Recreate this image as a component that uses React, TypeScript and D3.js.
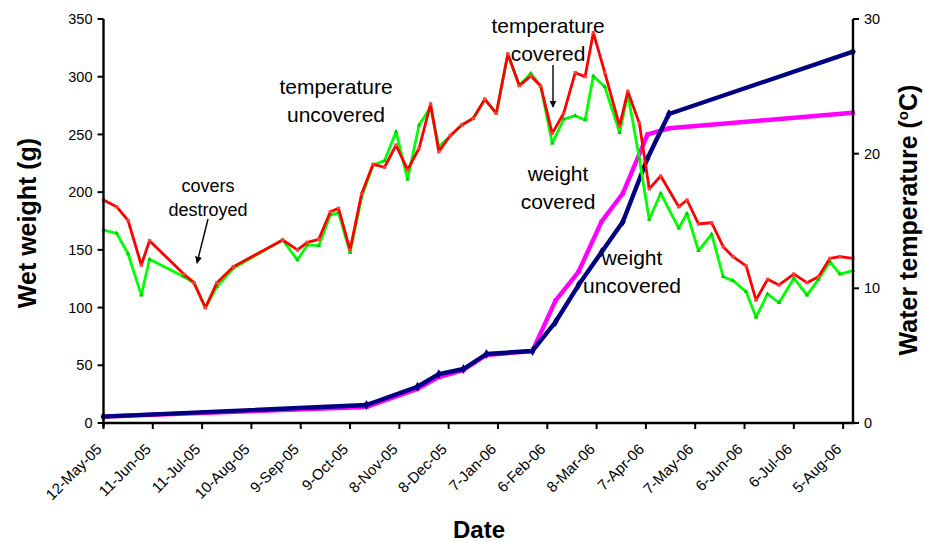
import React from "react";
import * as d3 from "d3";

// ---------- data ----------
const tempDates = [
  "2005-05-12", "2005-05-20", "2005-05-27", "2005-06-04", "2005-06-09", "2005-06-30",
  "2005-07-06", "2005-07-13", "2005-07-20", "2005-07-30", "2005-08-29", "2005-09-07",
  "2005-09-13", "2005-09-20", "2005-09-27", "2005-10-02", "2005-10-09", "2005-10-16",
  "2005-10-23", "2005-10-30", "2005-11-06", "2005-11-13", "2005-11-20", "2005-11-27",
  "2005-12-02", "2005-12-09", "2005-12-16", "2005-12-23", "2005-12-30", "2006-01-06",
  "2006-01-13", "2006-01-20", "2006-01-27", "2006-02-02", "2006-02-09", "2006-02-16",
  "2006-02-23", "2006-03-01", "2006-03-06", "2006-03-13", "2006-03-22", "2006-03-27",
  "2006-04-03", "2006-04-09", "2006-04-16", "2006-04-27", "2006-05-02", "2006-05-09",
  "2006-05-17", "2006-05-24", "2006-05-30", "2006-06-07", "2006-06-13", "2006-06-20",
  "2006-06-27", "2006-07-06", "2006-07-14", "2006-07-21", "2006-07-28", "2006-08-03",
  "2006-08-11",
];

// red line (°C)
const tempCovered = [
  16.56, 16.06, 15.02, 11.73, 13.54, 11.04, 10.42, 8.56, 10.42, 11.61, 13.59, 12.85,
  13.42, 13.64, 15.69, 15.94, 12.85, 17.0, 19.21, 18.99, 20.64, 18.79, 20.4, 23.69,
  20.15, 21.35, 22.13, 22.63, 24.04, 23.0, 27.4, 25.05, 25.77, 25.02, 21.51, 23.0,
  26.01, 25.72, 28.98, 26.01, 22.05, 24.64, 22.25, 17.39, 18.34, 16.06, 16.56, 14.78,
  14.87, 13.09, 12.35, 11.66, 9.13, 10.67, 10.25, 11.06, 10.42, 10.86, 12.23, 12.35,
  12.23,
];

// green line (°C)
const tempUncovered = [
  14.33, 14.09, 12.55, 9.5, 12.16, 10.86, 10.42, 8.56, 10.12, 11.49, 13.59, 12.1,
  13.22, 13.17, 15.45, 15.62, 12.65, 16.76, 19.16, 19.48, 21.63, 18.1, 22.13, 23.44,
  20.52, 21.31, 22.13, 22.63, 24.04, 23.0, 27.4, 25.05, 25.97, 25.02, 20.77, 22.57,
  22.82, 22.5, 25.77, 24.97, 21.56, 24.43, 19.64, 15.11, 17.06, 14.46, 15.57, 12.79,
  14.03, 10.86, 10.57, 9.75, 7.85, 9.58, 8.93, 10.75, 9.5, 10.67, 11.98, 11.06,
  11.31,
];

const weightDates = [
  "2005-05-12", "2005-10-19", "2005-11-19", "2005-12-02", "2005-12-17", "2005-12-31",
  "2006-01-28", "2006-02-11", "2006-02-25", "2006-03-11", "2006-03-24", "2006-04-08",
  "2006-04-21", "2006-08-11",
];

// magenta line (g)
const weightCovered = [5.6, 13.9, 29.5, 39.8, 45.9, 58.9, 62.4, 106, 131, 174.4, 199, 250, 255.3, 268.8];
// navy line (g)
const weightUncovered = [5.5, 15.6, 31.4, 42.4, 46.8, 59.8, 62.4, 87.5, 119.5, 148, 174.4, 229.3, 267.7, 321.7];

const xTickDates = [
  "2005-05-12", "2005-06-11", "2005-07-11", "2005-08-10", "2005-09-09", "2005-10-09",
  "2005-11-08", "2005-12-08", "2006-01-07", "2006-02-06", "2006-03-08", "2006-04-07",
  "2006-05-07", "2006-06-06", "2006-07-06", "2006-08-05",
];
const weightTicks = [0, 50, 100, 150, 200, 250, 300, 350];
const tempTicks = [0, 10, 20, 30];

const xDomain = ["2005-05-12", "2006-08-11"];
const weightDomain = [0, 350];
const tempDomain = [0, 30];

// ---------- chart ----------
const FONT = "Arial, 'Liberation Sans', Helvetica, sans-serif";

export default function App() {
  const W = 925;
  const H = 542;
  const left = 103.5;
  const right = 853;
  const top = 19;
  const bottom = 423;

  const parse = d3.utcParse("%Y-%m-%d");
  const fmt = d3.utcFormat("%-d-%b-%y");

  const x = d3
    .scaleUtc()
    .domain(xDomain.map((s) => parse(s) as Date))
    .range([left, right]);
  const yW = d3.scaleLinear().domain(weightDomain).range([bottom, top]);
  const yT = d3.scaleLinear().domain(tempDomain).range([bottom, top]);

  const tempRed = tempDates.map((d, i) => ({ d: parse(d) as Date, v: tempCovered[i] }));
  const tempGreen = tempDates.map((d, i) => ({ d: parse(d) as Date, v: tempUncovered[i] }));
  const wMag = weightDates.map((d, i) => ({ d: parse(d) as Date, v: weightCovered[i] }));
  const wNavy = weightDates.map((d, i) => ({ d: parse(d) as Date, v: weightUncovered[i] }));

  const lineT = d3
    .line<{ d: Date; v: number }>()
    .x((p) => x(p.d))
    .y((p) => yT(p.v));
  const lineW = d3
    .line<{ d: Date; v: number }>()
    .x((p) => x(p.d))
    .y((p) => yW(p.v));

  const diamond = d3.symbol().type(d3.symbolDiamond).size(28)() as string;
  const square = d3.symbol().type(d3.symbolSquare).size(18)() as string;
  const cross = d3.symbol().type(d3.symbolCross).size(10)() as string;
  const tri = d3.symbol().type(d3.symbolTriangle).size(9)() as string;

  const axisW = 2.4;

  return (
    <svg
      width={W}
      height={H}
      viewBox={`0 0 ${W} ${H}`}
      style={{ position: "absolute", left: 0, top: 0, background: "#fff" }}
      fontFamily={FONT}
    >
      <defs>
        <marker id="arrow" viewBox="0 0 10 10" refX="9" refY="5" markerWidth="7" markerHeight="7" orient="auto-start-reverse" markerUnits="userSpaceOnUse">
          <path d="M0,0 L10,5 L0,10 z" fill="#000" />
        </marker>
      </defs>
      <rect x={0} y={0} width={W} height={H} fill="#fff" />

      {/* weight lines */}
      <path d={lineW(wMag) as string} fill="none" stroke="#FF00FF" strokeWidth={4.4} strokeLinejoin="round" />
      {wMag.map((p, i) => (
        <path key={"m" + i} d={square} transform={`translate(${x(p.d)},${yW(p.v)})`} fill="#FF00FF" />
      ))}
      <path d={lineW(wNavy) as string} fill="none" stroke="#000080" strokeWidth={4.4} strokeLinejoin="round" />
      {wNavy.map((p, i) => (
        <path key={"n" + i} d={diamond} transform={`translate(${x(p.d)},${yW(p.v)})`} fill="#000080" />
      ))}

      {/* temperature lines */}
      <path d={lineT(tempGreen) as string} fill="none" stroke="#00FF00" strokeWidth={2.8} strokeLinejoin="round" />
      {tempGreen.map((p, i) => (
        <path key={"g" + i} d={tri} transform={`translate(${x(p.d)},${yT(p.v)})`} fill="#00CC00" />
      ))}
      <path d={lineT(tempRed) as string} fill="none" stroke="#FF0000" strokeWidth={2.8} strokeLinejoin="round" />
      {tempRed.map((p, i) => (
        <path key={"r" + i} d={cross} transform={`translate(${x(p.d)},${yT(p.v)}) rotate(45)`} fill="#FF4040" />
      ))}

      {/* axes */}
      <line x1={left} x2={right + 2} y1={bottom} y2={bottom} stroke="#000" strokeWidth={axisW} />
      <line x1={left} x2={left} y1={top} y2={bottom + 4} stroke="#000" strokeWidth={axisW} />
      <line x1={right} x2={right} y1={top} y2={bottom + 1} stroke="#000" strokeWidth={axisW} />

      {weightTicks.map((t) => (
        <g key={"wt" + t}>
          <line x1={left - 6} x2={left} y1={yW(t)} y2={yW(t)} stroke="#000" strokeWidth={2} />
          <text x={left - 11} y={yW(t)} dy="0.35em" textAnchor="end" fontSize={14.5} fill="#000">
            {t}
          </text>
        </g>
      ))}
      {tempTicks.map((t) => (
        <g key={"tt" + t}>
          <line x1={right} x2={right + 6} y1={yT(t)} y2={yT(t)} stroke="#000" strokeWidth={2} />
          <text x={right + 11} y={yT(t)} dy="0.35em" textAnchor="start" fontSize={14.5} fill="#000">
            {t}
          </text>
        </g>
      ))}
      {xTickDates.map((s) => {
        const d = parse(s) as Date;
        const xx = x(d);
        return (
          <g key={"xt" + s}>
            <line x1={xx} x2={xx} y1={bottom} y2={bottom + 6} stroke="#000" strokeWidth={2} />
            <text
              transform={`translate(${xx - 4.5},${bottom + 23.5}) rotate(-45)`}
              textAnchor="end"
              dy="0.35em"
              fontSize={15}
              fill="#000"
            >
              {fmt(d)}
            </text>
          </g>
        );
      })}

      {/* axis titles */}
      <text transform={`translate(27,223) rotate(-90)`} textAnchor="middle" dy="0.35em" fontSize={25} fontWeight="bold">
        Wet weight (g)
      </text>
      <g transform={`translate(908,220) rotate(-90)`}>
        <text x={0} y={0} textAnchor="middle" dy="0.35em" fontSize={25} fontWeight="bold">
          Water temperature (
          <tspan fontSize={15} dy={-9}>o</tspan>
          <tspan dy={9}>C)</tspan>
        </text>
      </g>
      <text x={479} y={538} textAnchor="middle" fontSize={24} fontWeight="bold">
        Date
      </text>

      {/* annotations */}
      <g fontSize={18} textAnchor="middle" fill="#000">
        <text x={208} y={192}>covers</text>
        <text x={208} y={216}>destroyed</text>
      </g>
      <line x1={208} y1={219} x2={197} y2={263} stroke="#000" strokeWidth={1.4} markerEnd="url(#arrow)" />

      <g fontSize={21} textAnchor="middle" fill="#000">
        <text x={336} y={94}>temperature</text>
        <text x={336} y={122}>uncovered</text>
        <text x={548} y={33}>temperature</text>
        <text x={548} y={61}>covered</text>
        <text x={558} y={181}>weight</text>
        <text x={558} y={209}>covered</text>
        <text x={632} y={265}>weight</text>
        <text x={632} y={293}>uncovered</text>
      </g>
      <line x1={553} y1={65} x2={553} y2={107} stroke="#000" strokeWidth={1.4} markerEnd="url(#arrow)" />
    </svg>
  );
}
